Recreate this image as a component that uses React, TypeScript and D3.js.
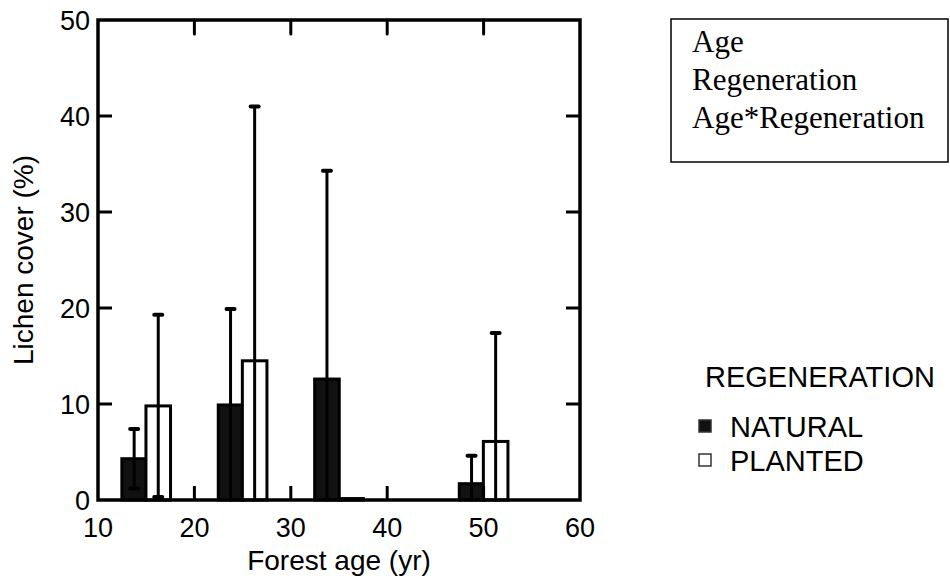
import React from "react";
import * as d3 from "d3";

const ages = [15, 25, 35, 50];
const naturalMean = [4.3, 9.9, 12.6, 1.7];
const naturalSd = [3.1, 10.0, 21.7, 2.9];
const plantedMean = [9.8, 14.5, 0.15, 6.1];
const plantedSd = [9.5, 26.5, 0.0, 11.3];
const xTicks = [10, 20, 30, 40, 50, 60];
const yTicks = [0, 10, 20, 30, 40, 50];
const boxLines = ["Age", "Regeneration", "Age*Regeneration"];
const legendTitle = "REGENERATION";
const legendItems = ["NATURAL", "PLANTED"];

const W = 950;
const H = 579;
const L = 98, R = 580, T = 20, B = 500;
const SANS = "'Liberation Sans', Arial, Helvetica, sans-serif";
const SERIF = "'Liberation Serif', 'Times New Roman', serif";

export default function App() {
  const x = d3.scaleLinear().domain([10, 60]).range([L, R]);
  const y = d3.scaleLinear().domain([0, 50]).range([B, T]);
  const off = 1.25;
  const bw = 2.55;
  const tick = 14;
  const sw = 3;

  const series = [
    { mean: naturalMean, sd: naturalSd, dx: -off, fill: "#111" },
    { mean: plantedMean, sd: plantedSd, dx: off, fill: "#fff" },
  ];

  return (
    <svg width={W} height={H} style={{ position: "absolute", left: 0, top: 0, background: "#fff" }}>
      {/* bars */}
      {series.map((s, si) =>
        ages.map((a, i) => {
          const x0 = x(a + s.dx - bw / 2);
          const x1 = x(a + s.dx + bw / 2);
          const yt = y(s.mean[i]);
          return (
            <rect key={`b${si}-${i}`} x={x0} y={yt} width={x1 - x0} height={B - yt}
              fill={s.fill} stroke="#000" strokeWidth={sw} />
          );
        })
      )}
      {/* error bars */}
      {series.map((s, si) =>
        ages.map((a, i) => {
          if (s.sd[i] <= 0) return null;
          const cx = x(a + s.dx);
          const hi = s.mean[i] + s.sd[i];
          const lo = s.mean[i] - s.sd[i];
          const yHi = y(hi);
          const yLo = y(Math.max(0, lo));
          return (
            <g key={`e${si}-${i}`} stroke="#000" strokeLinecap="round">
              <line x1={cx} x2={cx} y1={yHi} y2={yLo} strokeWidth={3} />
              <line x1={cx - 4} x2={cx + 4} y1={yHi} y2={yHi} strokeWidth={4} />
              {lo > 0 && <line x1={cx - 4} x2={cx + 4} y1={yLo} y2={yLo} strokeWidth={4} />}
            </g>
          );
        })
      )}
      {/* frame */}
      <rect x={L} y={T} width={R - L} height={B - T} fill="none" stroke="#000" strokeWidth={3.5} />
      {/* ticks */}
      {xTicks.slice(1, -1).map((t) => (
        <g key={`xt${t}`} stroke="#000" strokeWidth={3}>
          <line x1={x(t)} x2={x(t)} y1={B} y2={B - tick} />
          <line x1={x(t)} x2={x(t)} y1={T} y2={T + tick} strokeLinecap="round" />
        </g>
      ))}
      {yTicks.slice(1, -1).map((t) => (
        <g key={`yt${t}`} stroke="#000" strokeWidth={3}>
          <line x1={L} x2={L + tick} y1={y(t)} y2={y(t)} />
          <line x1={R} x2={R - tick} y1={y(t)} y2={y(t)} />
        </g>
      ))}
      {/* tick labels */}
      {xTicks.map((t) => (
        <text key={`xl${t}`} x={x(t)} y={537} textAnchor="middle" fontFamily={SANS} fontSize={27} fill="#000">{t}</text>
      ))}
      {yTicks.map((t) => (
        <text key={`yl${t}`} x={L - 8} y={y(t) + 10} textAnchor="end" fontFamily={SANS} fontSize={27} fill="#000">{t}</text>
      ))}
      {/* axis titles */}
      <text x={(L + R) / 2} y={570} textAnchor="middle" fontFamily={SANS} fontSize={28} fill="#000">Forest age (yr)</text>
      <text transform={`translate(33,${(T + B) / 2}) rotate(-90)`} textAnchor="middle" fontFamily={SANS} fontSize={28} fill="#000">Lichen cover (%)</text>
      {/* stats box */}
      <rect x={671} y={19} width={277} height={143} fill="none" stroke="#000" strokeWidth={1.5} />
      {boxLines.map((s, i) => (
        <text key={s} x={692} y={52 + i * 38} fontFamily={SERIF} fontSize={31} fill="#000">{s}</text>
      ))}
      {/* legend */}
      <text x={705} y={387} fontFamily={SANS} fontSize={29} fill="#000">{legendTitle}</text>
      {legendItems.map((s, i) => (
        <g key={s}>
          <rect x={699} y={420 + i * 34} width={12} height={12} fill={i === 0 ? "#111" : "#fff"} stroke="#333" strokeWidth={1.5} />
          <text x={730} y={437 + i * 34} fontFamily={SANS} fontSize={29} fill="#000">{s}</text>
        </g>
      ))}
    </svg>
  );
}
